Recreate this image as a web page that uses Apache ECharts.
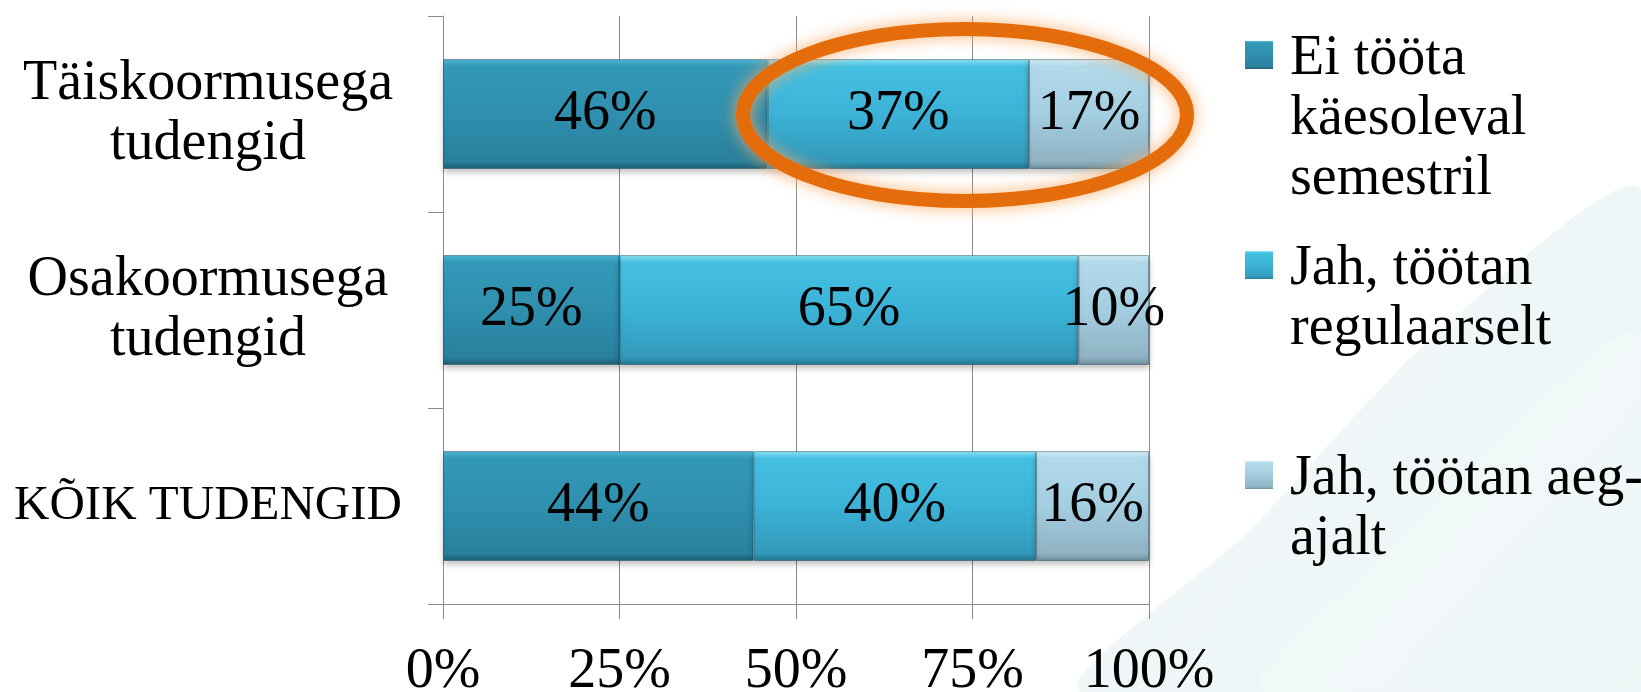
<!DOCTYPE html>
<html lang="et" style="height: 100%">
  <head>
    <meta charset="utf-8" />
  </head>
  <body style="height: 100%; margin: 0; background: #fff">
    <div id="container" style="width: 1641px; height: 692px"></div>

    <script
      type="text/javascript"
      src="https://fastly.jsdelivr.net/npm/echarts@6.0.0/dist/echarts.min.js"
    ></script>
    <script type="text/javascript">
      var dom = document.getElementById("container");
      var myChart = echarts.init(dom, null, { renderer: "canvas" });

      const categories = [
        "Täiskoormusega\ntudengid",
        "Osakoormusega\ntudengid",
        "KÕIK TUDENGID",
      ];
      const seriesNames = [
        "Ei tööta\nkäesoleval\nsemestril",
        "Jah, töötan\nregulaarselt",
        "Jah, töötan aeg-\najalt",
      ];
      const eiToota = [46, 25, 44];
      const regulaarselt = [37, 65, 40];
      const aegAjalt = [17, 10, 16];
      const xTicks = [0, 25, 50, 75, 100];

      const font = "'Liberation Serif', 'DejaVu Serif', serif";
      const lineH = 60;

      // bevel look: light top edge, dark bottom edge
      const bevelStops = [
        ["#4fbad6", "#3399b8", "#2f8fae", "#29809c", "#1d5e72"],
        ["#8fe6f8", "#44c0e2", "#3bb3d7", "#3399bb", "#25778f"],
        ["#d3eef7", "#b2daeb", "#a4cee1", "#8fb3c3", "#6f909d"],
      ];
      function bevel(s, from, to) {
        from = from || 0;
        to = to || 1;
        const k = to - from;
        return new echarts.graphic.LinearGradient(0, 0, 0, 1, [
          { offset: 0, color: s[0] },
          { offset: from, color: s[0] },
          { offset: from + 0.07 * k, color: s[1] },
          { offset: from + 0.5 * k, color: s[2] },
          { offset: from + 0.93 * k, color: s[3] },
          { offset: to, color: s[4] },
          { offset: 1, color: s[4] },
        ]);
      }

      function makeSeries(name, data, i) {
        return {
          name: name,
          type: "bar",
          stack: "total",
          barWidth: "56%",
          data: data,
          itemStyle: {
            color: bevel(bevelStops[i]),
            borderColor: "rgba(20,60,75,0.45)",
            borderWidth: 1,
            shadowColor: "rgba(0,0,0,0.25)",
            shadowBlur: 6,
            shadowOffsetY: 4,
          },
          label: {
            show: true,
            position: "inside",
            formatter: "{c}%",
            color: "#000",
            fontFamily: font,
            fontSize: 56,
          },
        };
      }

      // one legend per item; the icon path keeps the square on the first text line
      const legendTops = [29, 239, 449];
      const legends = seriesNames.map(function (name, i) {
        const n = name.split("\n").length;
        const h = n * lineH;
        return {
          data: [name],
          left: 1245,
          top: legendTops[i],
          padding: 0,
          itemWidth: 28,
          itemHeight: h,
          selectedMode: false,
          icon:
            "path://M0,0L0.01,0L0.01,0.01Z M0,12L28,12L28,40L0,40Z M0," +
            h +
            "L0.01," +
            h +
            "L0.01," +
            (h - 0.01) +
            "Z",
          itemStyle: {
            color: bevel(bevelStops[i], 12 / h, 40 / h),
            borderWidth: 0,
            shadowBlur: 0,
          },
          textStyle: {
            fontFamily: font,
            fontSize: 56,
            lineHeight: lineH,
            color: "#000",
            padding: [0, 0, 0, 12],
          },
        };
      });

      var option = {
        backgroundColor: "#fff",
        animation: false,
        legend: legends,
        grid: {
          left: 443,
          right: 492,
          top: 16,
          bottom: 88,
          containLabel: false,
          outerBoundsMode: "none",
        },
        xAxis: {
          type: "value",
          min: 0,
          max: 100,
          interval: 25,
          axisLine: { show: true, lineStyle: { color: "#8c8c8c" } },
          axisTick: { show: true, length: 15, lineStyle: { color: "#8c8c8c" } },
          splitLine: { show: true, lineStyle: { color: "#8c8c8c" } },
          axisLabel: {
            margin: 40,
            color: "#000",
            fontFamily: font,
            fontSize: 56,
            formatter: function (v) {
              return xTicks.indexOf(v) >= 0 ? v + "%" : "";
            },
          },
        },
        yAxis: {
          type: "category",
          inverse: true,
          data: categories,
          axisLine: { show: true, lineStyle: { color: "#8c8c8c" } },
          axisTick: { show: true, length: 15, lineStyle: { color: "#8c8c8c" } },
          axisLabel: {
            margin: 235,
            align: "center",
            color: "#000",
            fontFamily: font,
            fontSize: 56,
            lineHeight: lineH,
            // all-caps label is set a bit smaller so it fits like the original
            formatter: function (v) {
              return v === v.toUpperCase() ? "{caps|" + v + "}" : v;
            },
            rich: {
              caps: { fontFamily: font, fontSize: 49, color: "#000" },
            },
          },
        },
        graphic: [
          {
            type: "polygon",
            z: -10,
            silent: true,
            shape: {
              points: [
                [1080, 692], [1250, 530], [1430, 340], [1641, 190],
                [1641, 692],
              ],
              smooth: 0.25,
            },
            style: {
              fill: new echarts.graphic.LinearGradient(0, 0, 1, 1, [
                { offset: 0, color: "rgba(220,235,238,0.3)" },
                { offset: 1, color: "rgba(222,236,239,0.6)" },
              ]),
            },
          },
          {
            type: "polygon",
            z: -10,
            silent: true,
            shape: {
              points: [
                [1260, 692], [1400, 540], [1641, 330], [1641, 692],
              ],
              smooth: 0.25,
            },
            style: { fill: "rgba(244,249,250,0.5)" },
          },
          {
            type: "ellipse",
            z: 100,
            silent: true,
            shape: { cx: 965, cy: 115, rx: 222, ry: 86 },
            style: {
              fill: "none",
              stroke: "#e46c0a",
              lineWidth: 14,
              shadowBlur: 16,
              shadowColor: "rgba(250,170,100,0.9)",
            },
          },
        ],
        series: [
          makeSeries(seriesNames[0], eiToota, 0),
          makeSeries(seriesNames[1], regulaarselt, 1),
          makeSeries(seriesNames[2], aegAjalt, 2),
        ],
      };

      myChart.setOption(option);
      window.addEventListener("resize", myChart.resize);
    </script>
  </body>
</html>
